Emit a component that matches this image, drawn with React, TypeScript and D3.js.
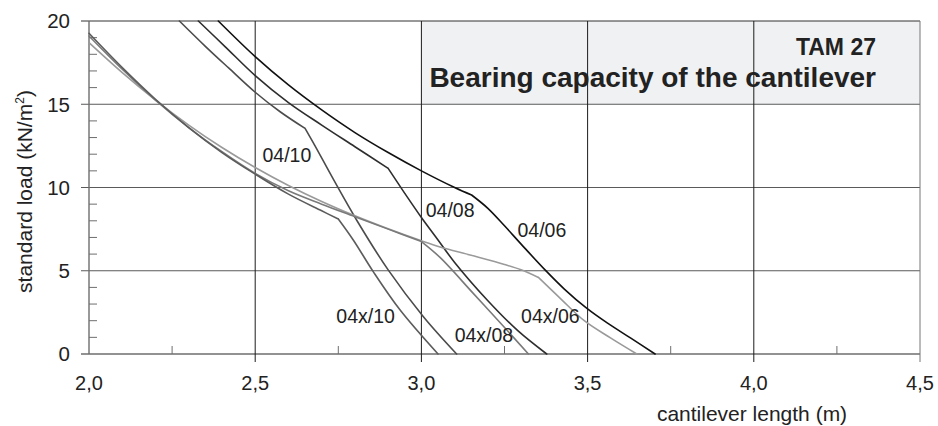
import React from 'react';
import * as d3 from 'd3';

// ---- data (cantilever length in m, standard load in kN/m²) ----
const xTicks = [2.0, 2.5, 3.0, 3.5, 4.0, 4.5];
const xMinorTicks = [2.25, 2.75, 3.25, 3.75, 4.25];
const yTicks = [0, 5, 10, 15, 20];
const yMinorTicks = [1, 2, 3, 4, 6, 7, 8, 9, 11, 12, 13, 14, 16, 17, 18, 19];

const s0406: [number, number][] = [[2.389, 20], [2.5, 17.86], [2.6, 16.16], [2.7, 14.66], [2.8, 13.3], [2.9, 12.1], [3.0, 11.0], [3.1, 10.0], [3.151, 9.55], [3.2, 8.75], [3.25, 7.7], [3.3, 6.6], [3.372, 5.05], [3.43, 3.9], [3.497, 2.75], [3.56, 1.85], [3.63, 0.95], [3.703, 0]];
const s0408: [number, number][] = [[2.329, 20], [2.41, 18.45], [2.5, 16.72], [2.6, 15.1], [2.7, 13.75], [2.8, 12.45], [2.9, 11.15], [2.95, 9.65], [3.0, 8.2], [3.05, 6.85], [3.1, 5.5], [3.2, 3.2], [3.29, 1.4], [3.377, 0]];
const s0410: [number, number][] = [[2.272, 20], [2.35, 18.48], [2.42, 17.18], [2.5, 15.72], [2.575, 14.55], [2.65, 13.55], [2.68, 12.5], [2.735, 10.5], [2.805, 8.05], [2.9, 5.05], [3.006, 2.24], [3.106, 0]];
const s04x06: [number, number][] = [[2.0, 18.7], [2.1, 16.9], [2.2, 15.25], [2.3, 13.75], [2.4, 12.4], [2.5, 11.2], [2.6, 10.12], [2.7, 9.16], [2.8, 8.3], [2.9, 7.52], [3.0, 6.8], [3.056, 6.43], [3.15, 5.93], [3.25, 5.38], [3.3, 5.06], [3.352, 4.6], [3.42, 3.3], [3.49, 2.0], [3.57, 0.95], [3.648, 0]];
const s04x08: [number, number][] = [[2.0, 19.1], [2.1, 17.1], [2.2, 15.25], [2.3, 13.6], [2.4, 12.15], [2.5, 10.85], [2.6, 9.8], [2.7, 9.0], [2.8, 8.25], [2.9, 7.5], [3.0, 6.75], [3.056, 5.8], [3.156, 3.64], [3.257, 1.44], [3.322, 0]];
const s04x10: [number, number][] = [[2.0, 19.26], [2.1, 17.2], [2.2, 15.3], [2.3, 13.6], [2.4, 12.1], [2.5, 10.8], [2.6, 9.6], [2.7, 8.6], [2.75, 8.11], [2.795, 6.85], [2.855, 4.95], [2.936, 2.64], [3.05, 0]];

const seriesNames = ['04/06', '04/08', '04/10', '04x/06', '04x/08', '04x/10'];
const seriesData = [s0406, s0408, s0410, s04x06, s04x08, s04x10];
// x position of the sharp bend in each curve
const seriesKinks = [3.151, 2.9, 2.65, 3.352, 3.0, 2.75];
const seriesColors = ['#111111', '#2e2e2e', '#4c4c4c', '#9a9a9a', '#7a7a7a', '#5c5c5c'];
// label anchor positions in data units (x, load)
const labelPos: [number, number][] = [[3.289, 7.05], [3.013, 8.2], [2.522, 11.55], [3.3, 1.85], [3.1, 0.7], [2.744, 1.85]];

const titleTop = 'TAM 27';
const titleMain = 'Bearing capacity of the cantilever';
const xTitle = 'cantilever length (m)';

const W = 938;
const H = 426;
const FONT = "'Liberation Sans', Arial, Helvetica, sans-serif";

export default function App() {
  const x = d3.scaleLinear().domain([2.0, 4.5]).range([89, 920]);
  const y = d3.scaleLinear().domain([0, 20]).range([354, 21]);
  const line = d3
    .line<[number, number]>()
    .x((d) => x(d[0]))
    .y((d) => y(d[1]))
    .curve(d3.curveCatmullRom.alpha(0.5));

  const pathFor = (pts: [number, number][], kink: number) => {
    const a = pts.filter((p) => p[0] <= kink);
    const b = pts.filter((p) => p[0] >= kink);
    return (line(a) || '') + (line(b) || '');
  };

  const vGrid = '#1c1c1c';
  const hGrid = '#5a5a5a';
  const axisCol = '#6e6e6e';

  return (
    <svg
      width={W}
      height={H}
      viewBox={`0 0 ${W} ${H}`}
      style={{ position: 'absolute', left: 0, top: 0, background: '#fff' }}
      fontFamily={FONT}
    >
      <rect x={0} y={0} width={W} height={H} fill="#fff" />
      {/* title box */}
      <rect x={x(3.0)} y={y(20)} width={x(4.5) - x(3.0)} height={y(15) - y(20)} fill="#f0f1f2" />

      {/* horizontal grid lines */}
      {yTicks.map((t) => (
        <line key={'h' + t} x1={81} x2={x(4.5)} y1={y(t)} y2={y(t)} stroke={t === 0 ? axisCol : t === 20 ? '#333' : hGrid} strokeWidth={t === 0 ? 1.4 : 1} />
      ))}
      {/* vertical grid lines */}
      {xTicks.map((t) => (
        <line key={'v' + t} x1={x(t)} x2={x(t)} y1={y(20)} y2={t === 2.0 ? y(0) : 362} stroke={t === 2.0 ? axisCol : t === 4.5 ? '#777' : vGrid} strokeWidth={t === 2.0 ? 1.4 : 1} />
      ))}
      {/* minor ticks */}
      {yMinorTicks.map((t) => (
        <line key={'ym' + t} x1={89} x2={97} y1={y(t)} y2={y(t)} stroke={axisCol} strokeWidth={1} />
      ))}
      {xMinorTicks.map((t) => (
        <line key={'xm' + t} x1={x(t)} x2={x(t)} y1={y(0)} y2={y(0) - 8} stroke={axisCol} strokeWidth={1} />
      ))}

      {/* curves */}
      {seriesData.map((s, i) => (
        <path key={seriesNames[i]} d={pathFor(s, seriesKinks[i])} fill="none" stroke={seriesColors[i]} strokeWidth={1.6} strokeLinejoin="round" strokeLinecap="round" />
      ))}

      {/* curve labels */}
      {seriesNames.map((n, i) => (
        <text key={'l' + n} x={x(labelPos[i][0])} y={y(labelPos[i][1])} fontSize={19.5} fill="#222">
          {n}
        </text>
      ))}

      {/* tick labels */}
      {yTicks.map((t) => (
        <text key={'yt' + t} x={70} y={y(t)} dy="0.36em" textAnchor="end" fontSize={20.5} fill="#222">
          {t}
        </text>
      ))}
      {xTicks.map((t) => (
        <text key={'xt' + t} x={x(t)} y={390} textAnchor="middle" fontSize={20} fill="#222">
          {d3.format('.1f')(t).replace('.', ',')}
        </text>
      ))}

      {/* titles */}
      <text x={876} y={55} textAnchor="end" fontSize={23} fontWeight="bold" fill="#222">
        {titleTop}
      </text>
      <text x={876} y={87} textAnchor="end" fontSize={28} fontWeight="bold" fill="#222">
        {titleMain}
      </text>

      <text x={752} y={421} textAnchor="middle" fontSize={21} fill="#222">
        {xTitle}
      </text>
      <text transform="translate(32,191.5) rotate(-90)" textAnchor="middle" fontSize={21} fill="#222">
        standard load (kN/m<tspan dy={-8} fontSize={12}>2</tspan>
        <tspan dy={8}>)</tspan>
      </text>
    </svg>
  );
}
